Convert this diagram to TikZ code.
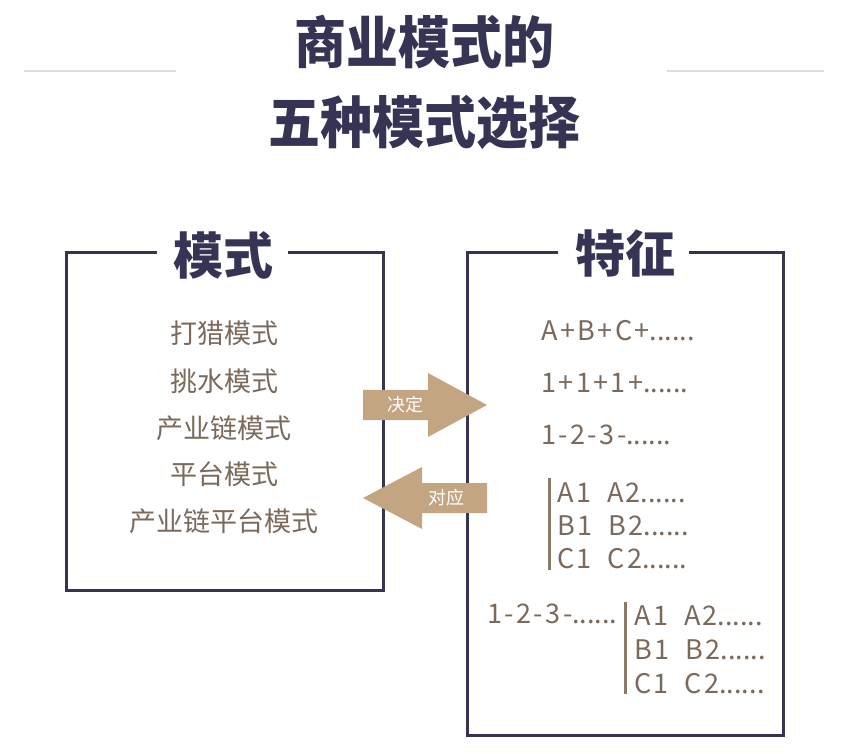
\documentclass[tikz,border=0pt]{standalone}
\usepackage{fontspec}
\newfontfamily\cjk{Noto Sans CJK SC}
\newfontfamily\cjkwide{Noto Sans CJK SC}[LetterSpace=9]
\newfontfamily\cjkblack{Noto Sans CJK SC Black}
\newcommand{\dotsix}{{\cjk\fontsize{27}{27}\selectfont ......}}
\definecolor{navy}{HTML}{363454}
\definecolor{browntext}{HTML}{7B6A5B}
\definecolor{tan}{HTML}{C3A582}
\definecolor{barcol}{HTML}{8B7A66}
\definecolor{grayline}{HTML}{DDDDDD}
\tikzset{
  title/.style={font=\cjkblack\fontsize{52}{52}\selectfont, text=navy, inner sep=0pt},
  head/.style={font=\cjkblack\fontsize{50}{50}\selectfont, text=navy, inner sep=0pt},
  item/.style={font=\cjk\fontsize{27}{27}\selectfont, text=browntext, inner sep=0pt},
  feat/.style={font=\cjkwide\fontsize{27}{27}\selectfont, text=browntext, inner sep=0pt, anchor=west},
  boxline/.style={draw=navy, line width=3pt},
  bar/.style={draw=barcol, line width=3pt},
  arrowtxt/.style={font=\cjk\fontsize{18}{18}\selectfont, text=white, inner sep=0pt},
}
\begin{document}
\begin{tikzpicture}[x=1pt,y=-1pt]
\useasboundingbox (0,0) rectangle (847,754);
\fill[white] (0,0) rectangle (847,754);
% title
\node[title] (t1) at (424,42) {\scalebox{1}[1.08]{商业模式的}};
\node[title] (t2) at (424,122) {\scalebox{1}[1.08]{五种模式选择}};
\coordinate (gl1) at (24,71); \coordinate (gl2) at (176,71);
\coordinate (gr1) at (667,71); \coordinate (gr2) at (824,71);
\draw[grayline, line width=1.5pt] (gl1) -- (gl2);
\draw[grayline, line width=1.5pt] (gr1) -- (gr2);
% left box
\node[head] (h1) at (223,255) {模式};
\draw[boxline] (157,253) -- (66,253) -- (66,590) -- (383,590) -- (383,253) -- (288,253);
\node[item] (m1) at (224,333) {打猎模式};
\node[item] (m2) at (224,381) {挑水模式};
\node[item] (m3) at (224,428) {产业链模式};
\node[item] (m4) at (224,474) {平台模式};
\node[item] (m5) at (224,521) {产业链平台模式};
% right box
\node[head] (h2) at (625,253) {特征};
\draw[boxline] (558,253) -- (467,253) -- (467,735) -- (783,735) -- (783,253) -- (689,253);
\node[feat] (f1) at (541,331) {A+B+C+\dotsix};
\node[feat] (f2) at (541,383) {1+1+1+\dotsix};
\node[feat] (f3) at (541,435) {1-2-3-\dotsix};
\coordinate (b1a) at (549,478); \coordinate (b1b) at (549,570);
\draw[bar] (b1a) -- (b1b);
\node[feat] (g1) at (557,493) {A1\hspace{16pt}A2\dotsix};
\node[feat] (g2) at (557,526) {B1\hspace{16pt}B2\dotsix};
\node[feat] (g3) at (557,559) {C1\hspace{16pt}C2\dotsix};
\node[feat] (f4) at (487,614) {1-2-3-\dotsix};
\coordinate (b2a) at (625,602); \coordinate (b2b) at (625,694);
\draw[bar] (b2a) -- (b2b);
\node[feat] (k1) at (634,616) {A1\hspace{16pt}A2\dotsix};
\node[feat] (k2) at (634,650) {B1\hspace{16pt}B2\dotsix};
\node[feat] (k3) at (634,684) {C1\hspace{16pt}C2\dotsix};
% arrows
\fill[tan] (363,390) -- (428,390) -- (428,373) -- (487,405) -- (428,437) -- (428,420) -- (363,420) -- cycle;
\node[arrowtxt] (a1) at (405,405) {决定};
\fill[tan] (487,483) -- (422,483) -- (422,467) -- (363,498) -- (422,529) -- (422,513) -- (487,513) -- cycle;
\node[arrowtxt] (a2) at (446,498) {对应};
\end{tikzpicture}
\end{document}
